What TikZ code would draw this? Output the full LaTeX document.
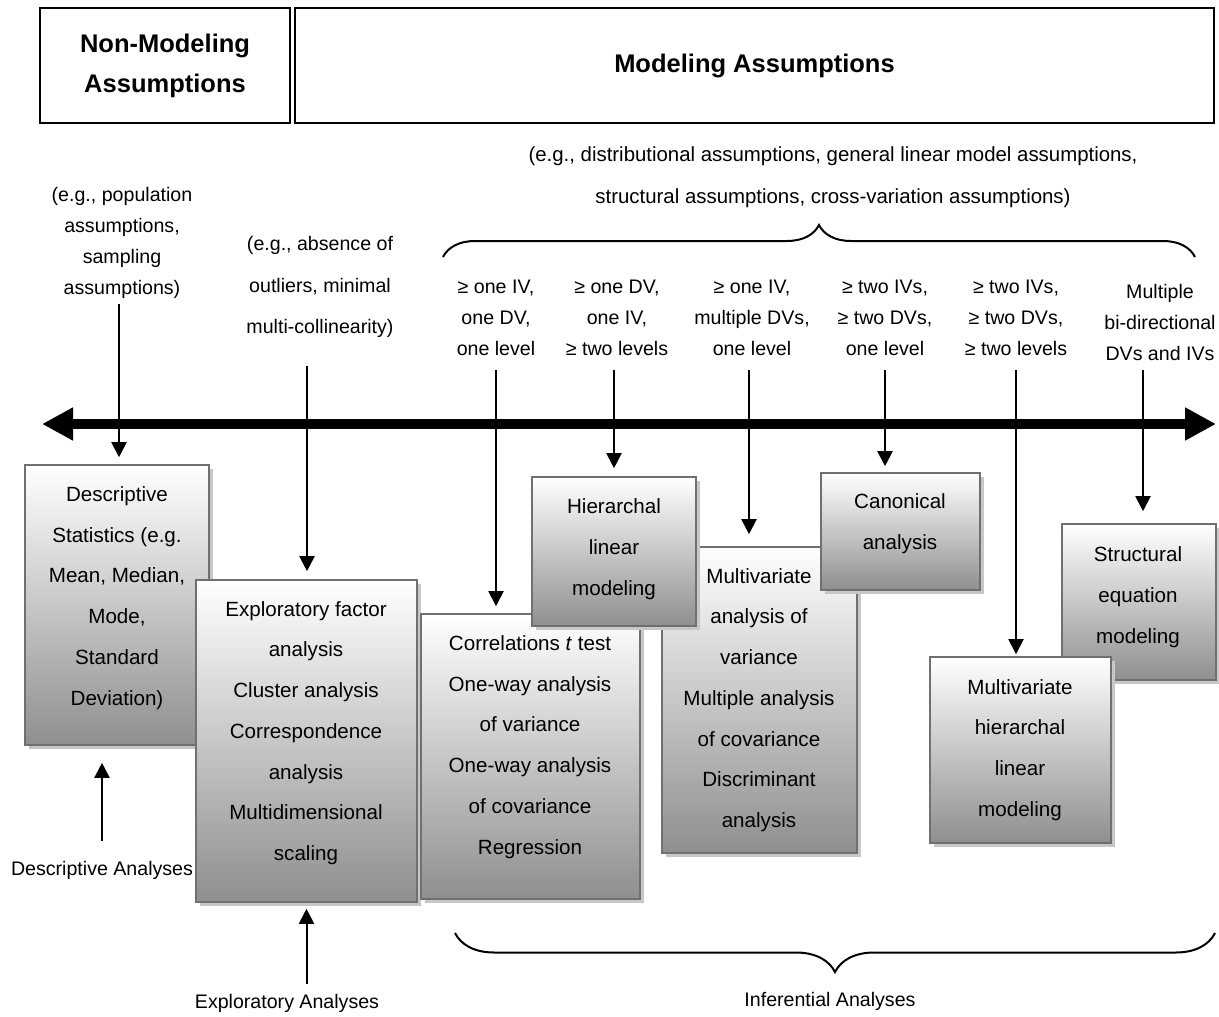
\documentclass[tikz,border=0pt]{standalone}
\usepackage{fontspec}
\setmainfont{Liberation Sans}
\usetikzlibrary{arrows.meta,shadows,decorations.pathreplacing,calc}

\begin{document}
\begin{tikzpicture}[x=1pt,y=-1pt,
  hdr/.style={draw=black, line width=1.4pt, inner sep=0pt,
    font=\fontsize{25.5}{40}\selectfont\bfseries, align=center},
  box/.style={draw=black!56, line width=1.6pt, inner sep=0pt,
    top color=white, bottom color=black!44,
    general shadow={fill=black!22, shadow xshift=4pt, shadow yshift=-4pt}},
  boxtext/.style={font=\fontsize{20.6}{40.7}\selectfont, align=center, inner sep=0pt},
  lab/.style={font=\fontsize{19.6}{31}\selectfont, align=center, inner sep=0pt},
  labwide/.style={lab, font=\fontsize{19.6}{41.5}\selectfont},
  arr/.style={line width=2pt, -{Triangle[length=15pt,width=15pt]}},
  axis/.style={line width=10pt, {Triangle[length=31pt,width=31pt]}-{Triangle[length=31pt,width=31pt]}},
  brc/.style={line width=2pt, decorate, decoration={brace, amplitude=#1}},
]
\useasboundingbox (0,0) rectangle (1219,1017);

% header boxes
\node[hdr, minimum width=250pt, minimum height=115pt] (nonmod) at (165,65.5)
  {Non-Modeling\\Assumptions};
\node[hdr, minimum width=919pt, minimum height=115pt] (mod) at (754.5,65.5)
  {Modeling Assumptions};

% assumption notes
\node[lab] (popL) at (122,243) {(e.g., population\\assumptions,\\sampling\\assumptions)};
\node[labwide] (absL) at (320,287) {(e.g., absence of\\outliers, minimal\\multi-collinearity)};
\node[labwide, font=\fontsize{20.4}{42}\selectfont] (egL) at (833,177) {(e.g., distributional assumptions, general linear model assumptions,\\structural assumptions, cross-variation assumptions)};

% brace over the modeling columns
\coordinate (bTL) at (443,257);
\coordinate (bTR) at (1195,257);
\draw[brc=32pt] (bTL) -- (bTR);

% column conditions
\node[lab] (c1) at (496,318) {≥ one IV,\\one DV,\\one level};
\node[lab] (c2) at (617,318) {≥ one DV,\\one IV,\\≥ two levels};
\node[lab] (c3) at (752,318) {≥ one IV,\\multiple DVs,\\one level};
\node[lab] (c4) at (885,318) {≥ two IVs,\\≥ two DVs,\\one level};
\node[lab] (c5) at (1016,318) {≥ two IVs,\\≥ two DVs,\\≥ two levels};
\node[lab] (c6) at (1160,322) {Multiple\\bi-directional\\DVs and IVs};

% main axis
\coordinate (axL) at (42,424);
\coordinate (axR) at (1216,424);
\draw[axis] (axL) -- (axR);

% analysis boxes (back to front)
\node[box, minimum width=184pt, minimum height=280pt] (desc) at (117,605) {};
\node[boxtext] (descT) at (117,598) {Descriptive\\Statistics (e.g.\\Mean, Median,\\Mode,\\Standard\\Deviation)};

\node[box, minimum width=221pt, minimum height=322pt] (expl) at (306.5,741) {};
\node[boxtext] (explT) at (306,733) {Exploratory factor\\analysis\\Cluster analysis\\Correspondence\\analysis\\Multidimensional\\scaling};

\node[box, minimum width=219pt, minimum height=285pt] (corr) at (530.5,756.5) {};
\node[boxtext] (corrT) at (530,747) {Correlations \textit{t} test\\One-way analysis\\of variance\\One-way analysis\\of covariance\\Regression};

\node[box, minimum width=195pt, minimum height=306pt] (manova) at (759.5,700) {};
\node[boxtext] (manovaT) at (759,700) {Multivariate\\analysis of\\variance\\Multiple analysis\\of covariance\\Discriminant\\analysis};

\node[box, minimum width=164pt, minimum height=149pt] (hlm) at (614,551.5) {};
\node[boxtext] (hlmT) at (614,549) {Hierarchal\\linear\\modeling};

\node[box, minimum width=159pt, minimum height=117pt] (canon) at (900.5,531.5) {};
\node[boxtext] (canonT) at (900,524) {Canonical\\analysis};

\node[box, minimum width=154pt, minimum height=156pt] (sem) at (1139,602) {};
\node[boxtext] (semT) at (1138,597) {Structural\\equation\\modeling};

\node[box, minimum width=181pt, minimum height=186pt] (mhlm) at (1020.5,750) {};
\node[boxtext] (mhlmT) at (1020,750) {Multivariate\\hierarchal\\linear\\modeling};

% arrows from assumptions and conditions to the analyses
\draw[arr] ($(popL.south)+(-3,5)$) -- ($(popL.south |- desc.north)+(-3,-7)$);
\draw[arr] ($(absL.south)+(-13,28)$) -- ($(absL.south |- expl.north)+(-13,-8)$);
\draw[arr] ($(c1.south)+(0,14)$) -- ($(c1.south |- corr.north)+(0,-7)$);
\draw[arr] ($(c2.south)+(-3,14)$) -- ($(c2.south |- hlm.north)+(-3,-8)$);
\draw[arr] ($(c3.south)+(-3,14)$) -- ($(c3.south |- manova.north)+(-3,-12)$);
\draw[arr] ($(c4.south)+(0,14)$) -- ($(c4.south |- canon.north)+(0,-6)$);
\draw[arr] ($(c5.south)+(0,14)$) -- ($(c5.south |- mhlm.north)+(0,-2)$);
\draw[arr] ($(c6.south)+(-17,10)$) -- ($(c6.south |- sem.north)+(-17,-12)$);

% analysis families
\node[lab] (descA) at (102,870) {Descriptive Analyses};
\node[lab] (explA) at (287,1003) {Exploratory Analyses};
\node[lab] (infA) at (830,1001) {Inferential Analyses};

\draw[arr] ($(descA.north)+(0,-20)$) -- ($(descA.north |- desc.south)+(0,17)$);
\draw[arr] ($(explA.north -| expl.south)+(0,-10)$) -- ($(expl.south)+(0,6)$);

% brace under the inferential analyses
\coordinate (bBR) at (1215,933);
\coordinate (bBL) at (455,933);
\draw[brc=39pt] (bBR) -- (bBL);
\end{tikzpicture}
\end{document}
